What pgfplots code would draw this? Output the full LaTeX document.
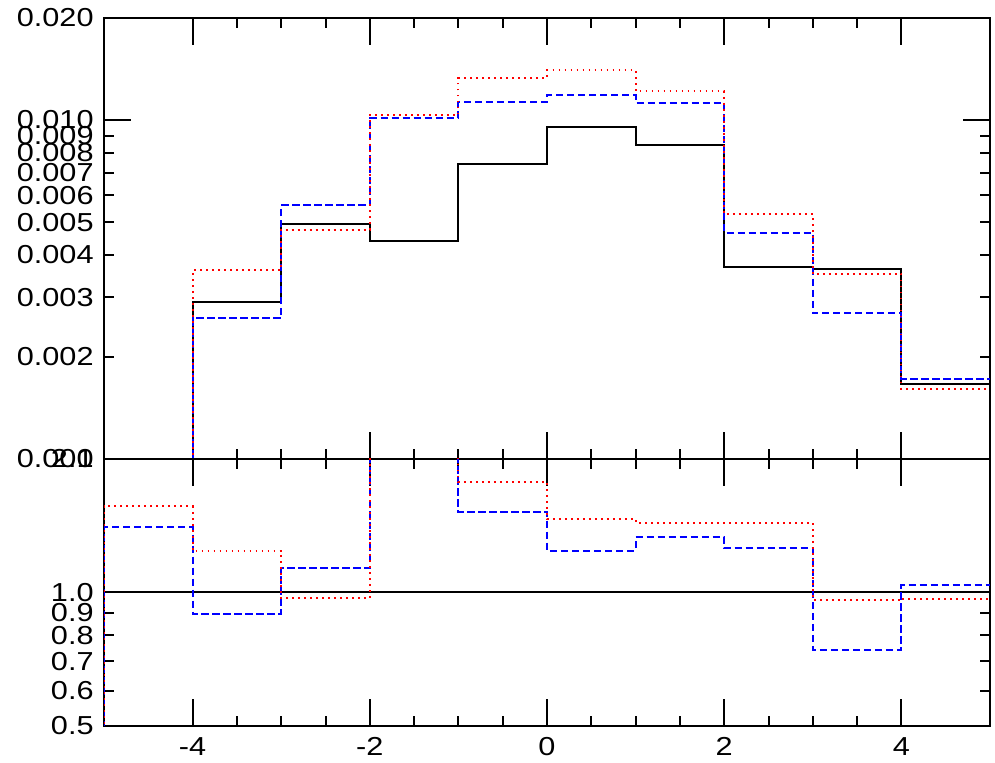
\documentclass[border=0pt]{standalone}
\usepackage{fontspec}
\setmainfont{Liberation Sans}[FakeStretch=1.18]
\usepackage{pgfplots}
\pgfplotsset{compat=1.18}
\pgfplotsset{
  common/.style={
    scale only axis,
    anchor=south west,
    width=443pt,
    xmin=-5, xmax=5,
    tick align=inside,
    tick pos=both,
    xticklabel pos=lower,
    yticklabel pos=left,
    xtick={-4,-2,0,2,4},
    minor x tick num=3,
    major tick length=13.5pt,
    minor tick length=5pt,
    axis line style={line width=1pt},
    every tick/.style={black, line width=1pt},
    tick label style={font=\fontsize{13}{15}\selectfont},
    yticklabel style={inner xsep=0pt, xshift=-5pt},
    xticklabel style={inner ysep=0pt, yshift=-5.5pt},
    extra tick style={major tick length=5pt, grid=none},
    const plot mark left,
    clip=true,
  },
  hblack/.style={black, line width=1pt, no marks},
  hblue/.style={blue, line width=1pt, no marks, dash pattern=on 3.6pt off 1.9pt},
  hred/.style={red, line width=1pt, no marks, dash pattern=on 0.9pt off 2.1pt},
}
\begin{document}
\begin{tikzpicture}
\useasboundingbox (0,0) rectangle (497.5pt,381.5pt);
% top panel
\begin{axis}[common,
  at={(52pt,152pt)},
  height=220.5pt,
  ymode=log, ymin=0.001, ymax=0.02,
  ytick={0.001,0.01,0.02},
  yticklabels={0.001,0.010,0.020},
  extra y ticks={0.002,0.003,0.004,0.005,0.006,0.007,0.008,0.009},
  extra y tick labels={0.002,0.003,0.004,0.005,0.006,0.007,0.008,0.009},
  xticklabels={},
  minor ytick={},
]
\addplot[hblack] coordinates {(-5,0.0001) (-4,0.002901) (-3,0.004921) (-2,0.004406) (-1,0.007437) (0,0.00952) (1,0.008443) (2,0.003695) (3,0.003645) (4,0.001665) (5,0.001665)};
\addplot[hblue] coordinates {(-5,0.0001) (-4,0.002598) (-3,0.005597) (-2,0.01016) (-1,0.01132) (0,0.01184) (1,0.01124) (2,0.004651) (3,0.002694) (4,0.001723) (5,0.001723)};
\addplot[hred] coordinates {(-5,0.0001) (-4,0.003604) (-3,0.004748) (-2,0.01034) (-1,0.01329) (0,0.0140) (1,0.01214) (2,0.005279) (3,0.003508) (4,0.001609) (5,0.001609)};
\end{axis}
% bottom panel
\begin{axis}[common,
  at={(52pt,18.5pt)},
  height=133.5pt,
  ymode=log, ymin=0.5, ymax=2,
  ytick={0.5,1,2},
  yticklabels={0.5,1.0,2.0},
  extra y ticks={0.6,0.7,0.8,0.9},
  extra y tick labels={0.6,0.7,0.8,0.9},
  xticklabels={-4,-2,0,2,4},
  minor ytick={},
]
\addplot[hblack] coordinates {(-5,1) (5,1)};
\addplot[hblue] coordinates {(-5,0.1) (-5,1.404) (-4,0.895) (-3,1.137) (-2,2.30) (-1,1.517) (0,1.243) (1,1.333) (2,1.259) (3,0.742) (4,1.041) (5,1.041)};
\addplot[hred] coordinates {(-5,0.1) (-5,1.565) (-4,1.241) (-3,0.971) (-2,2.35) (-1,1.773) (0,1.463) (1,1.435) (2,1.435) (3,0.961) (4,0.969) (5,0.969)};
\end{axis}
\end{tikzpicture}
\end{document}
